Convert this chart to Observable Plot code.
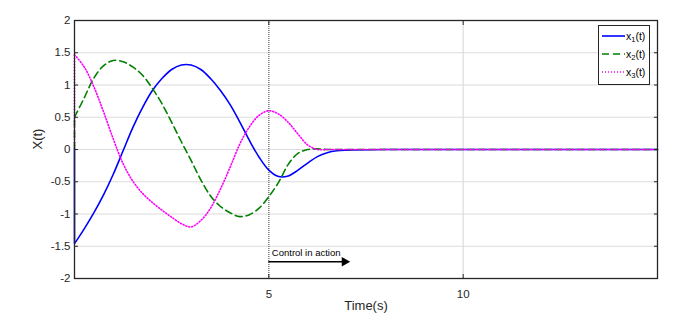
<!DOCTYPE html>
<html><head><meta charset="utf-8">
<script src="https://cdn.jsdelivr.net/npm/d3@7"></script>
<script src="https://cdn.jsdelivr.net/npm/@observablehq/plot@0.6"></script>
<style>
body{margin:0;background:#fff;}
#wrap{position:relative;width:681px;height:321px;font-family:"Liberation Sans",Arial,sans-serif;}
#legend{position:absolute;left:598px;top:25px;width:52px;height:60px;border:1px solid #262626;background:#fff;font-size:10.5px;color:#000;box-sizing:border-box;}
.row{position:absolute;left:0;height:14px;width:51px;}
.row svg{position:absolute;left:2px;top:0;}
.row span{position:absolute;left:27px;top:0;line-height:14px;white-space:nowrap;}
.row sub{font-size:7.5px;vertical-align:-2px;line-height:0;}
</style></head><body><div id="wrap"></div>
<script>
// time samples (s)
const time = [0,0.25,0.5,0.75,1,1.25,1.5,1.75,2,2.25,2.5,2.75,3,3.25,3.5,3.75,4,4.25,4.5,4.75,5,5.25,5.5,5.75,6,6.25,6.5,6.75,7,8,10,12,15];
// x1(t)
const x1 = [-1.46,-1.23,-0.98,-0.70,-0.38,-0.02,0.34,0.65,0.91,1.10,1.24,1.31,1.31,1.24,1.10,0.92,0.70,0.43,0.14,-0.12,-0.32,-0.42,-0.41,-0.32,-0.21,-0.11,-0.05,-0.02,-0.01,0,0,0,0];
// x2(t)
const x2 = [0.50,0.80,1.11,1.30,1.38,1.36,1.28,1.15,0.95,0.71,0.42,0.12,-0.17,-0.47,-0.72,-0.88,-0.98,-1.04,-1.01,-0.91,-0.73,-0.51,-0.23,-0.06,0.0,0.01,0,0,0,0,0,0,0];
// x3(t)
const x3 = [1.47,1.28,0.97,0.58,0.16,-0.22,-0.49,-0.68,-0.82,-0.94,-1.05,-1.15,-1.20,-1.10,-0.91,-0.62,-0.28,0.08,0.35,0.53,0.60,0.55,0.42,0.24,0.07,0.0,0,0,0,0,0,0,0];

const seriesNames = ["x1(t)","x2(t)","x3(t)"];
const seriesLabels = [["x","1","(t)"],["x","2","(t)"],["x","3","(t)"]];
const seriesValues = [x1, x2, x3];
const seriesColors = ["#0000ff","#008000","#ff00ff"];
const seriesDash = [null,"7,4","1,2"];

const yTicks = [-2,-1.5,-1,-0.5,0,0.5,1,1.5,2];
const xTicks = [5,10];
const xDomain = [0,15];
const yDomain = [-2,2];

// annotation
const controlTime = 5;
const arrowEnd = 7;
const arrowY = -1.74;
const annotationText = "Control in action";
const annotationY = -1.6;

const xLabel = "Time(s)";
const yLabel = "X(t)";

const rows = [];
seriesValues.forEach((vals, i) => {
  time.forEach((t, j) => rows.push({t, v: vals[j], s: seriesNames[i]}));
});
const starts = seriesNames.map((s, i) => ({s, v: seriesValues[i][0]}));

const fmt = d => String(d);
const txt = "#262626";

const marks = [
  Plot.gridY(yTicks, {stroke:"#dcdcdc", strokeOpacity:1, strokeWidth:1.2}),
  Plot.gridX([10], {stroke:"#dcdcdc", strokeOpacity:1, strokeWidth:1.2}),
  Plot.ruleX([controlTime], {stroke:"#666", strokeDasharray:"1,1", strokeWidth:1.3}),
];
seriesNames.forEach((s, i) => {
  marks.push(Plot.ruleX(starts.filter(d => d.s === s), {x: 0, y1: 0, y2: "v", stroke: seriesColors[i], strokeWidth: 1.6, strokeDasharray: seriesDash[i]}));
  marks.push(Plot.line(rows.filter(d => d.s === s), {x: "t", y: "v", stroke: seriesColors[i], strokeWidth: 1.6, strokeDasharray: seriesDash[i], curve: "catmull-rom"}));
});
marks.push(
  Plot.ruleY([arrowY], {x1: controlTime, x2: arrowEnd, stroke: "#000", strokeWidth: 1.3}),
  Plot.dot([arrowEnd], {x: d => d, y: arrowY, symbol: "triangle", rotate: 90, r: 3.6, fill: "#000", stroke: "none", dx: -2}),
  Plot.text([annotationText], {x: controlTime, y: annotationY, text: d => d, textAnchor: "start", dx: 3, fontSize: 9.5, fill: "#000"}),
  Plot.axisY({anchor: "left", ticks: yTicks, tickSize: 0, tickPadding: 4, tickFormat: fmt, label: null, fontSize: 11.5, color: txt}),
  Plot.axisY({anchor: "left", ticks: yTicks, tickSize: -4, tickFormat: () => "", label: null, stroke: txt}),
  Plot.axisY({anchor: "right", ticks: yTicks, tickSize: -4, tickFormat: () => "", label: null, stroke: txt}),
  Plot.axisX({anchor: "bottom", ticks: xTicks, tickSize: 0, tickPadding: 11, tickFormat: fmt, label: null, fontSize: 11.5, color: txt}),
  Plot.axisX({anchor: "bottom", ticks: xTicks, tickSize: -4, tickFormat: () => "", label: null, stroke: txt}),
  Plot.axisX({anchor: "top", ticks: xTicks, tickSize: -4, tickFormat: () => "", label: null, stroke: txt}),
  Plot.text([yLabel], {frameAnchor: "left", dx: -37, rotate: -90, text: d => d, fontSize: 13, fill: txt}),
  Plot.text([xLabel], {frameAnchor: "bottom", dy: 31, text: d => d, fontSize: 13, fill: txt}),
  Plot.frame({stroke: txt, strokeWidth: 1.3})
);

const chart = Plot.plot({
  width: 681, height: 321,
  marginLeft: 74, marginRight: 24, marginTop: 20, marginBottom: 43,
  style: {fontFamily: '"Liberation Sans", Arial, sans-serif', background: "#fff"},
  x: {domain: xDomain},
  y: {domain: yDomain},
  marks
});
const wrap = document.getElementById("wrap");
wrap.appendChild(chart);

// legend
const leg = document.createElement("div");
leg.id = "legend";
const rowTops = [3, 21, 39];
seriesNames.forEach((s, i) => {
  const r = document.createElement("div");
  r.className = "row";
  r.style.top = rowTops[i] + "px";
  const dash = seriesDash[i] ? `stroke-dasharray="${seriesDash[i]}"` : "";
  r.innerHTML = `<svg width="24" height="14"><line x1="1" x2="24" y1="7" y2="7" stroke="${seriesColors[i]}" stroke-width="1.6" ${dash}/></svg><span>${seriesLabels[i][0]}<sub>${seriesLabels[i][1]}</sub>${seriesLabels[i][2]}</span>`;
  leg.appendChild(r);
});
wrap.appendChild(leg);
</script>
</body></html>
